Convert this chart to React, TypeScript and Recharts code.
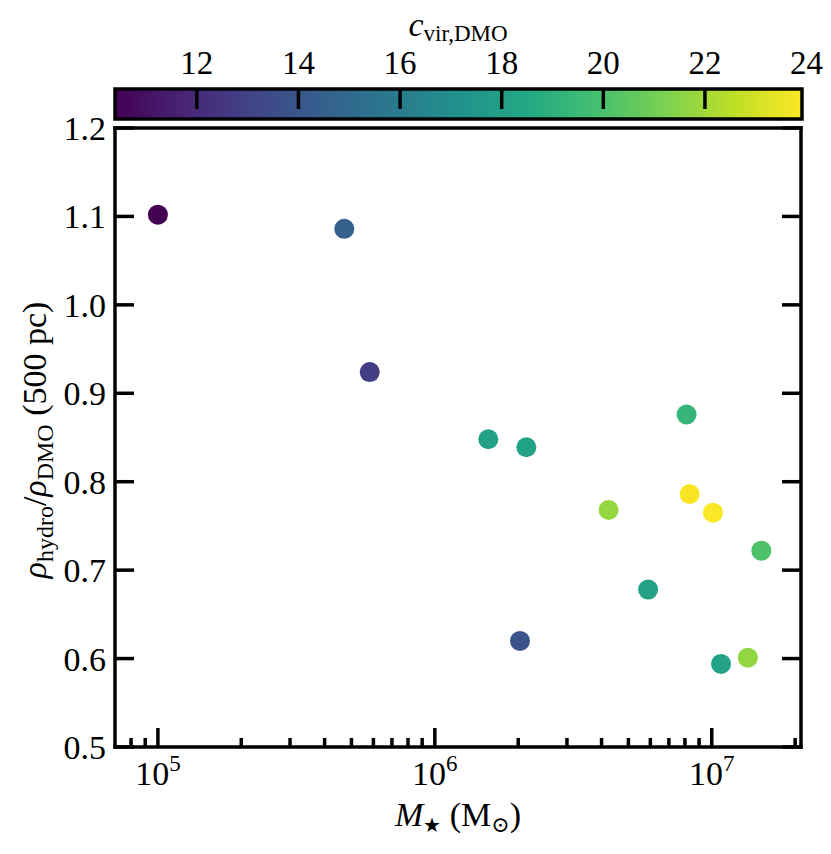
import React from 'react';
import { ScatterChart, Scatter, XAxis, YAxis, ReferenceArea } from 'recharts';

// ---------- data ----------
const mstar = [1.0e5, 4.71e5, 5.82e5, 1.56e6, 2.14e6, 2.03e6, 4.24e6, 5.89e6, 8.11e6, 8.32e6, 1.01e7, 1.51e7, 1.08e7, 1.35e7];
const rhoRatio = [1.102, 1.086, 0.924, 0.848, 0.839, 0.620, 0.768, 0.678, 0.876, 0.786, 0.765, 0.722, 0.594, 0.601];
const cvir = [10.4, 14.45, 12.8, 18.1, 18.15, 13.8, 21.75, 18.1, 19.25, 23.8, 23.85, 20.1, 18.15, 21.7];

const xMajorTicks = [1e5, 1e6, 1e7];
const xMajorLabels = ['5', '6', '7'];
const xAllTicks = [8e4, 9e4, 1e5, 2e5, 3e5, 4e5, 5e5, 6e5, 7e5, 8e5, 9e5, 1e6, 2e6, 3e6, 4e6, 5e6, 6e6, 7e6, 8e6, 9e6, 1e7, 2e7];
const xDomain = [7e4, 2.1e7];
const yTicks = [0.5, 0.6, 0.7, 0.8, 0.9, 1.0, 1.1, 1.2];
const yDomain = [0.5, 1.2];

const cbTicks = [12, 14, 16, 18, 20, 22, 24];
const cbDomain = [10.39, 23.91];

const viridisStops = ['#440154', '#482475', '#414487', '#355f8d', '#2a788e', '#21918c', '#22a884', '#44bf70', '#7ad151', '#bddf26', '#fde725'];

// ---------- helpers ----------
function hexToRgb(h: string) {
  return [parseInt(h.slice(1, 3), 16), parseInt(h.slice(3, 5), 16), parseInt(h.slice(5, 7), 16)];
}
function viridis(t: number) {
  const tt = Math.max(0, Math.min(1, t));
  const n = viridisStops.length - 1;
  const i = Math.min(n - 1, Math.floor(tt * n));
  const f = tt * n - i;
  const a = hexToRgb(viridisStops[i]);
  const b = hexToRgb(viridisStops[i + 1]);
  const c = a.map((v, k) => Math.round(v + (b[k] - v) * f));
  return `rgb(${c[0]},${c[1]},${c[2]})`;
}
function cColor(c: number) {
  return viridis((c - cbDomain[0]) / (cbDomain[1] - cbDomain[0]));
}

const points = mstar.map((m, i) => ({ m, r: rhoRatio[i], c: cvir[i], color: cColor(cvir[i]) }));
const cbTickPoints = cbTicks.filter((t) => t > cbDomain[0] && t < cbDomain[1]).map((t) => ({ v: t, y: 1 }));

const FONT = '"Liberation Serif", "DejaVu Serif", serif';
const SW = 3.5;

// ---------- tick renderers ----------
const BottomTick = (props: any) => {
  const { x, y, payload } = props;
  const v = payload.value;
  const mi = xMajorTicks.findIndex((t) => Math.abs(t - v) / t < 1e-6);
  const major = mi >= 0;
  return (
    <g>
      <line x1={x} x2={x} y1={y} y2={y - (major ? 19 : 9)} stroke="#000" strokeWidth={SW} />
      {major && (
        <text x={x} y={y + 38} textAnchor="middle" fontFamily={FONT} fontSize={34} fill="#000">
          10<tspan dy={-14} fontSize={23}>{xMajorLabels[mi]}</tspan>
        </text>
      )}
    </g>
  );
};
const TopTick = (props: any) => {
  const { x, y, payload } = props;
  const v = payload.value;
  const major = xMajorTicks.some((t) => Math.abs(t - v) / t < 1e-6);
  return <line x1={x} x2={x} y1={y} y2={y + (major ? 19 : 9)} stroke="#000" strokeWidth={SW} />;
};
const LeftTick = (props: any) => {
  const { x, y, payload } = props;
  return (
    <g>
      <line x1={x} x2={x + 19} y1={y} y2={y} stroke="#000" strokeWidth={SW} />
      <text x={x - 9} y={y + 12} textAnchor="end" fontFamily={FONT} fontSize={34} fill="#000">
        {Number(payload.value).toFixed(1)}
      </text>
    </g>
  );
};
const RightTick = (props: any) => {
  const { x, y } = props;
  return <line x1={x} x2={x - 19} y1={y} y2={y} stroke="#000" strokeWidth={SW} />;
};
const CbTick = (props: any) => {
  const { x, y, payload } = props;
  return (
    <text x={x} y={y - 15} textAnchor="middle" fontFamily={FONT} fontSize={33} fill="#000">
      {payload.value}
    </text>
  );
};
const CbTickMark = (props: any) => {
  const { cx, cy } = props;
  return <line x1={cx} x2={cx} y1={cy} y2={cy + 20} stroke="#000" strokeWidth={SW} />;
};

const Dot = (props: any) => {
  const { cx, cy, payload } = props;
  return <circle cx={cx} cy={cy} r={10} fill={payload.color} />;
};

const axisLine = { stroke: '#000', strokeWidth: SW, strokeLinecap: 'square' as const };

export default function App() {
  return (
    <div style={{ position: 'absolute', left: 0, top: 0, width: 831, height: 854, background: '#fff' }}>
      {/* colorbar */}
      <div style={{ position: 'absolute', left: 0, top: 0 }}>
        <ScatterChart width={831} height={125} margin={{ top: 88, right: 29, bottom: 6, left: 114 }}>
          <defs>
            <linearGradient id="viridisGrad" x1="0" y1="0" x2="1" y2="0">
              {viridisStops.map((c, i) => (
                <stop key={i} offset={`${(i / (viridisStops.length - 1)) * 100}%`} stopColor={c} />
              ))}
            </linearGradient>
          </defs>
          <XAxis
            xAxisId="cb"
            dataKey="v"
            type="number"
            orientation="top"
            height={1}
            domain={cbDomain}
            allowDataOverflow
            ticks={cbTicks}
            interval={0}
            tickSize={0}
            tickMargin={0}
            tick={<CbTick />}
            axisLine={false}
          />
          <YAxis
            yAxisId="cb"
            dataKey="y"
            type="number"
            domain={[0, 1]}
            allowDataOverflow
            width={1}
            tick={false}
            axisLine={false}
            tickLine={false}
          />
          <ReferenceArea
            xAxisId="cb"
            yAxisId="cb"
            x1={cbDomain[0]}
            x2={cbDomain[1]}
            y1={0}
            y2={1}
            fill="url(#viridisGrad)"
            fillOpacity={1}
            stroke="#000"
            strokeWidth={SW}
          />
          <Scatter
            xAxisId="cb"
            yAxisId="cb"
            data={cbTickPoints}
            shape={<CbTickMark />}
            isAnimationActive={false}
          />
        </ScatterChart>
      </div>

      {/* main chart */}
      <div style={{ position: 'absolute', left: 0, top: 0 }}>
        <ScatterChart width={831} height={854} margin={{ top: 127, right: 29, bottom: 106, left: 114 }}>
          <XAxis
            xAxisId="b"
            dataKey="m"
            type="number"
            scale="log"
            domain={xDomain}
            allowDataOverflow
            ticks={xAllTicks}
            interval={0}
            height={1}
            tickSize={0}
            tickMargin={0}
            tick={<BottomTick />}
            axisLine={axisLine}
          />
          <XAxis
            xAxisId="t"
            orientation="top"
            type="number"
            scale="log"
            domain={xDomain}
            allowDataOverflow
            ticks={xAllTicks}
            interval={0}
            height={1}
            tickSize={0}
            tickMargin={0}
            tick={<TopTick />}
            axisLine={axisLine}
          />
          <YAxis
            yAxisId="l"
            dataKey="r"
            type="number"
            domain={yDomain}
            allowDataOverflow
            ticks={yTicks}
            interval={0}
            width={1}
            tickSize={0}
            tickMargin={0}
            tick={<LeftTick />}
            axisLine={axisLine}
          />
          <YAxis
            yAxisId="r"
            orientation="right"
            type="number"
            domain={yDomain}
            allowDataOverflow
            ticks={yTicks}
            interval={0}
            width={1}
            tickSize={0}
            tickMargin={0}
            tick={<RightTick />}
            axisLine={axisLine}
          />
          <Scatter xAxisId="b" yAxisId="l" data={points} shape={<Dot />} isAnimationActive={false} />
        </ScatterChart>
      </div>

      {/* axis titles */}
      <svg width={831} height={854} style={{ position: 'absolute', left: 0, top: 0, pointerEvents: 'none' }}>
        <text x={458} y={36} textAnchor="middle" fontFamily={FONT} fontSize={34} fill="#000">
          <tspan fontStyle="italic">c</tspan>
          <tspan dy={5} fontSize={23}>vir,DMO</tspan>
        </text>
        <text x={458} y={826} textAnchor="middle" fontFamily={FONT} fontSize={34} fill="#000">
          <tspan fontStyle="italic">M</tspan>
          <tspan dy={6} fontSize={20}>★</tspan>
          <tspan dy={-6}> (M</tspan>
          <tspan dy={6} fontSize={22}>⊙</tspan>
          <tspan dy={-6}>)</tspan>
        </text>
        <text
          transform="rotate(-90)"
          x={-440}
          y={46}
          textAnchor="middle"
          fontFamily={FONT}
          fontSize={34}
          fill="#000"
        >
          <tspan fontStyle="italic">ρ</tspan>
          <tspan dy={7} fontSize={24}>hydro</tspan>
          <tspan dy={-7}>/</tspan>
          <tspan fontStyle="italic">ρ</tspan>
          <tspan dy={7} fontSize={24}>DMO</tspan>
          <tspan dy={-7}> (500 pc)</tspan>
        </text>
      </svg>
    </div>
  );
}
